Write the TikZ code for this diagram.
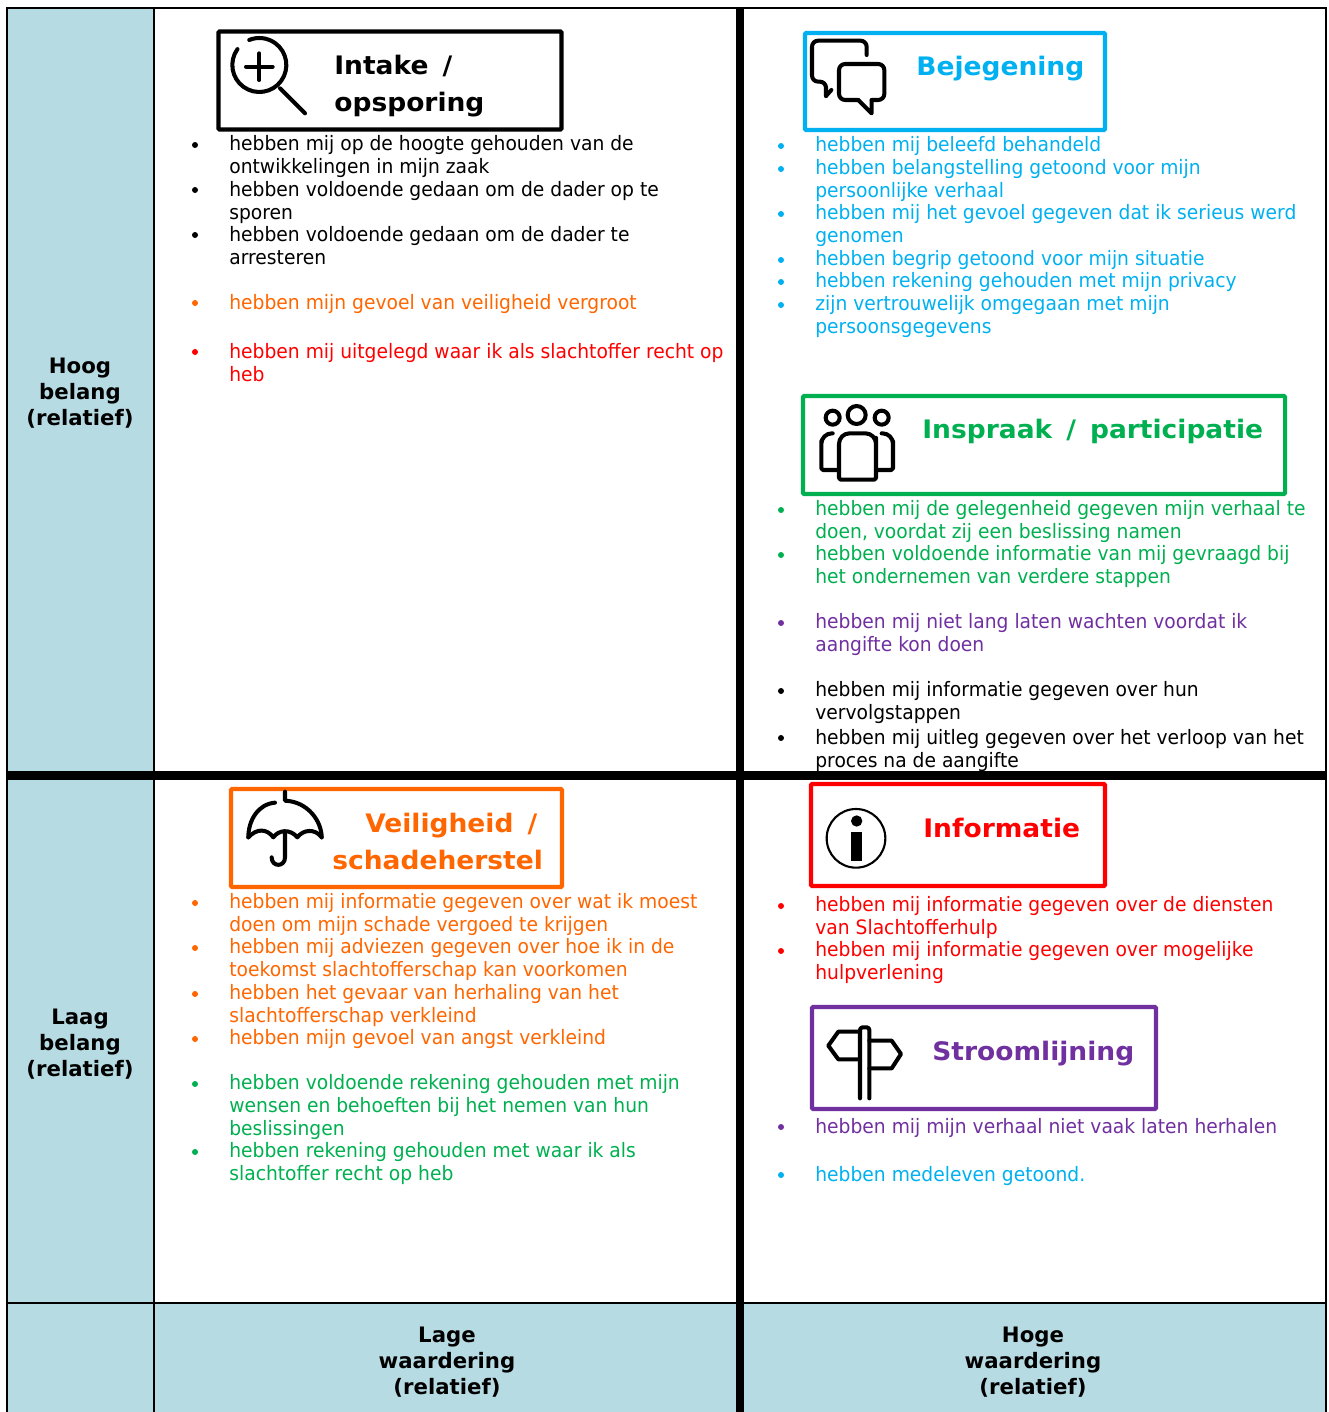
\documentclass[tikz,border=0pt]{standalone}
\usepackage{fontspec}
\usepackage{tikz}
\setmainfont[FakeStretch=0.942]{DejaVu Sans}
\newfontfamily\labelfont{DejaVu Sans}
\newfontfamily\kopfont[FakeStretch=1.04]{DejaVu Sans}
\definecolor{vlak}{HTML}{B7DBE3}
\definecolor{bej}{HTML}{00B0F0}
\definecolor{ins}{HTML}{00B050}
\definecolor{vei}{HTML}{FF6600}
\definecolor{inf}{HTML}{FF0000}
\definecolor{str}{HTML}{7030A0}
\tikzset{
  item/.style={anchor=north west,inner sep=0pt,align=left,font=\fontsize{11.3pt}{12.95pt}\selectfont},
  kop/.style={anchor=base west,inner sep=0pt,font=\kopfont\fontsize{14.5pt}{21pt}\selectfont\bfseries,execute at begin node={\spaceskip=8pt\relax}},
  as/.style={inner sep=0pt,align=center,font=\labelfont\fontsize{12.1pt}{14.6pt}\selectfont\bfseries},
  kader/.style={line width=2.3pt,rounded corners=0.6pt},
  icon/.style={line width=2.3pt,line cap=round,line join=round},
  grid/.style={line width=1.3pt},
  dik/.style={line width=4.6pt}
}
\begin{document}
\begin{tikzpicture}[x=0.02cm,y=-0.02cm]
  \useasboundingbox (0,0) rectangle (1328,1412);
  \fill[vlak] (7,8) rectangle (154,1412);
  \fill[vlak] (154,1303) rectangle (1326,1412);
  \draw[grid] (7,1412) -- (7,8) -- (1326,8) -- (1326,1412);
  \draw[grid] (154,8) -- (154,1412);
  \draw[grid] (7,1303) -- (1326,1303);
  \draw[dik] (740,8) -- (740,1412);
  \draw[dik] (7,775.5) -- (1326,775.5);

  \node[as] (hoog) at (80,393) {Hoog\\belang\\(relatief)};
  \node[as] (laag) at (80,1044) {Laag\\belang\\(relatief)};
  \node[as] (lage) at (447,1362) {Lage\\waardering\\(relatief)};
  \node[as] (hoge) at (1033,1362) {Hoge\\waardering\\(relatief)};

  \draw[kader,black] (218.5,31.5) rectangle (561.5,129.5);
  \draw[kader,bej] (805,33) rectangle (1105,130);
  \draw[kader,ins] (803,396) rectangle (1285,494);
  \draw[kader,vei] (231,789) rectangle (562,887);
  \draw[kader,inf] (811,784) rectangle (1105,886);
  \draw[kader,str] (812,1007) rectangle (1156,1109);

  \node[kop] (intake) at (334,75) {Intake /};
  \node[kop] (opsporing) at (334,112) {opsporing};
  \node[kop,text=bej] (bejegening) at (916,76) {Bejegening};
  \node[kop,text=ins] (inspraak) at (922,438) {Inspraak / participatie};
  \node[kop,text=vei] (veiligheid) at (365,832) {Veiligheid /};
  \node[kop,text=vei] (schade) at (332,869) {schadeherstel};
  \node[kop,text=inf] (informatie) at (923,837) {Informatie};
  \node[kop,text=str] (stroom) at (932,1060) {Stroomlijning};

  \begin{scope}[shift={(200,20)},scale=1/3]
    \draw[icon] (178,135) ++(-144:81) arc (-144:-472:81);
    \draw[icon] (178,100) -- (178,180);
    \draw[icon] (138,140) -- (218,140);
    \draw[icon] (240,205) -- (315,280);
  \end{scope}
  \begin{scope}[shift={(790,20)},scale=1/3]
    \draw[icon,rounded corners=3.5pt] (230,105) -- (230,62) -- (66,62) -- (66,185) -- (108,185) -- (108,228);
    \draw[icon] (108,228) -- (124,210);
    \draw[icon,rounded corners=3.5pt] (245,240) -- (283,240) -- (283,132) -- (147,132) -- (147,240) -- (205,240);
    \draw[icon] (205,240) -- (245,280) -- (245,240);
  \end{scope}
  \begin{scope}[shift={(790,385)},scale=1/3]
    \draw[icon] (128,98) circle (21);
    \draw[icon] (200,90) circle (27);
    \draw[icon] (275,98) circle (21);
    \draw[icon,rounded corners=1pt] (147,284) -- (147,190) [rounded corners=6pt] -- (147,145) -- (258,145) -- (258,190) [rounded corners=1pt] -- (258,284) -- cycle;
    \draw[icon,rounded corners=6pt] (128,145) -- (94,145) -- (94,200) [rounded corners=1pt] -- (94,255) -- (147,255);
    \draw[icon,rounded corners=6pt] (275,145) -- (309,145) -- (309,200) [rounded corners=1pt] -- (309,255) -- (258,255);
  \end{scope}
  \begin{scope}[shift={(220,780)},scale=1/3]
    \draw[icon] (165,68) .. controls (115,72) and (85,120) .. (85,172);
    \draw[icon] (195,35) -- (195,62) .. controls (265,65) and (305,125) .. (305,172);
    \draw[icon] (85,172) .. controls (110,145) and (140,145) .. (160,172) .. controls (175,150) and (210,145) .. (232,172) .. controls (250,148) and (285,145) .. (305,172);
    \draw[icon] (195,160) -- (195,232) .. controls (195,262) and (155,262) .. (155,232);
  \end{scope}
  \begin{scope}[shift={(800,775)},scale=1/3]
    \draw[line width=1.2pt] (168,190) circle (88);
    \fill (170,138) circle (17);
    \fill (153,170) rectangle (185,258);
  \end{scope}
  \begin{scope}[shift={(800,1000)},scale=1/3]
    \draw[icon,rounded corners=1.5pt] (180,295) -- (180,82) -- (208,82) -- (208,295);
    \draw[icon] (180,95) -- (115,95) -- (85,137) -- (115,178) -- (180,178);
    \draw[icon] (208,122) -- (275,122) -- (303,162) -- (275,205) -- (208,205);
  \end{scope}

  \node[item] (l1) at (229,135.5) {hebben mij op de hoogte gehouden van de\\ontwikkelingen in mijn zaak};
  \node[item] (l2) at (229,181.5) {hebben voldoende gedaan om de dader op te\\sporen};
  \node[item] (l3) at (229,226.5) {hebben voldoende gedaan om de dader te\\arresteren};
  \node[item,text=vei] (l4) at (229,294.5) {hebben mijn gevoel van veiligheid vergroot};
  \node[item,text=inf] (l5) at (229,343.5) {hebben mij uitgelegd waar ik als slachtoffer recht op\\heb};

  \node[item,text=bej] (r1) at (815,136.5) {hebben mij beleefd behandeld};
  \node[item,text=bej] (r2) at (815,159.5) {hebben belangstelling getoond voor mijn\\persoonlijke verhaal};
  \node[item,text=bej] (r3) at (815,204.5) {hebben mij het gevoel gegeven dat ik serieus werd\\genomen};
  \node[item,text=bej] (r4) at (815,250.5) {hebben begrip getoond voor mijn situatie};
  \node[item,text=bej] (r5) at (815,272.5) {hebben rekening gehouden met mijn privacy};
  \node[item,text=bej] (r6) at (815,295.5) {zijn vertrouwelijk omgegaan met mijn\\persoonsgegevens};
  \node[item,text=ins] (r7) at (815,500.5) {hebben mij de gelegenheid gegeven mijn verhaal te\\doen, voordat zij een beslissing namen};
  \node[item,text=ins] (r8) at (815,545.5) {hebben voldoende informatie van mij gevraagd bij\\het ondernemen van verdere stappen};
  \node[item,text=str] (r9) at (815,613.5) {hebben mij niet lang laten wachten voordat ik\\aangifte kon doen};
  \node[item] (r10) at (815,681.5) {hebben mij informatie gegeven over hun\\vervolgstappen};
  \node[item] (r11) at (815,729.5) {hebben mij uitleg gegeven over het verloop van het\\proces na de aangifte};

  \node[item,text=vei] (o1) at (229,893.5) {hebben mij informatie gegeven over wat ik moest\\doen om mijn schade vergoed te krijgen};
  \node[item,text=vei] (o2) at (229,938.5) {hebben mij adviezen gegeven over hoe ik in de\\toekomst slachtofferschap kan voorkomen};
  \node[item,text=vei] (o3) at (229,984.5) {hebben het gevaar van herhaling van het\\slachtofferschap verkleind};
  \node[item,text=vei] (o4) at (229,1029.5) {hebben mijn gevoel van angst verkleind};
  \node[item,text=ins] (o5) at (229,1074.5) {hebben voldoende rekening gehouden met mijn\\wensen en behoeften bij het nemen van hun\\beslissingen};
  \node[item,text=ins] (o6) at (229,1142.5) {hebben rekening gehouden met waar ik als\\slachtoffer recht op heb};

  \node[item,text=inf] (p1) at (815,896.5) {hebben mij informatie gegeven over de diensten\\van Slachtofferhulp};
  \node[item,text=inf] (p2) at (815,941.5) {hebben mij informatie gegeven over mogelijke\\hulpverlening};
  \node[item,text=str] (p3) at (815,1118.5) {hebben mij mijn verhaal niet vaak laten herhalen};
  \node[item,text=bej] (p4) at (815,1166.5) {hebben medeleven getoond.};

  \foreach \y in {145,190,235} \fill (195,\y) circle (3);
  \foreach \y in {691,738} \fill (781,\y) circle (3);
  \foreach \y in {146,169,214,260,282,305} \fill[bej] (781,\y) circle (3);
  \foreach \y in {510,555} \fill[ins] (781,\y) circle (3);
  \foreach \y in {623} \fill[str] (781,\y) circle (3);
  \foreach \y in {906,951} \fill[inf] (781,\y) circle (3);
  \foreach \y in {1127} \fill[str] (781,\y) circle (3);
  \foreach \y in {1175} \fill[bej] (781,\y) circle (3);
  \foreach \y in {303,903,948,994,1039} \fill[vei] (195,\y) circle (3);
  \foreach \y in {352} \fill[inf] (195,\y) circle (3);
  \foreach \y in {1084,1152} \fill[ins] (195,\y) circle (3);
\end{tikzpicture}
\end{document}
